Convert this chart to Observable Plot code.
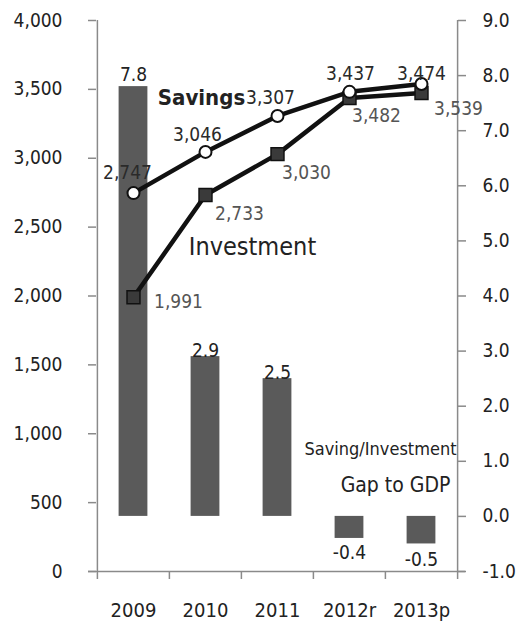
<!DOCTYPE html>
<html>
<head>
<meta charset="utf-8">
<script src="https://cdn.jsdelivr.net/npm/d3@7"></script>
<script src="https://cdn.jsdelivr.net/npm/@observablehq/plot@0.6"></script>
<style>
  html, body { margin: 0; padding: 0; background: #fff; }
  #chart { width: 519px; height: 623px; }
</style>
</head>
<body>
<div id="chart"></div>
<script>
// ---- data ----
const years = ["2009", "2010", "2011", "2012r", "2013p"];
const savings = [2747, 3046, 3307, 3482, 3539];
const investment = [1991, 2733, 3030, 3437, 3474];
const gap = [7.8, 2.9, 2.5, -0.4, -0.5];   // Saving/Investment gap to GDP (right axis)
const leftTicks = [0, 500, 1000, 1500, 2000, 2500, 3000, 3500, 4000];
const rightTicks = [-1, 0, 1, 2, 3, 4, 5, 6, 7, 8, 9];

// ---- layout / style ----
const W = 519, H = 623;
const mL = 96, mR = 62, mT = 20, mB = 52;
const bw = (W - mL - mR) / years.length;
const leftDomain = [leftTicks[0], leftTicks[leftTicks.length - 1]];
const rightDomain = [rightTicks[0], rightTicks[rightTicks.length - 1]];
const k = (leftDomain[1] - leftDomain[0]) / (rightDomain[1] - rightDomain[0]);
const toLeft = v => leftDomain[0] + (v - rightDomain[0]) * k;
const fromLeft = u => rightDomain[0] + (u - leftDomain[0]) / k;

const font = "'DejaVu Sans Condensed', 'Noto Sans', sans-serif";
const axisGray = "#8a8a8a";
const barFill = "#5a5a5a";
const noText = () => "";

const gapRows = years.map((year, i) => ({year, base: toLeft(0), top: toLeft(gap[i]), label: gap[i].toFixed(1), neg: gap[i] < 0}));
const savRows = years.map((year, i) => ({year, v: savings[i]}));
const invRows = years.map((year, i) => ({year, v: investment[i]}));

const savOff = [[-6, -20], [-8, -17], [-7, -18], [27, 24], [37, 25]];
const invOff = [[45, 5], [34, 19], [29, 19], [1, -24], [0, -19]];
const gapOff = [-12, -6, -6, 14, 16];

const valueLabels = [];
savRows.forEach((r, i) => valueLabels.push(Plot.text([r], {x: "year", y: "v", text: d => d3.format(",")(d.v), dx: savOff[i][0], dy: savOff[i][1], fontSize: 19, fill: i < 3 ? "#2a2a2a" : "#555"})));
invRows.forEach((r, i) => valueLabels.push(Plot.text([r], {x: "year", y: "v", text: d => d3.format(",")(d.v), dx: invOff[i][0], dy: invOff[i][1], fontSize: 19, fill: i < 3 ? "#555" : "#2a2a2a"})));
const barLabels = gapRows.map((r, i) => Plot.text([r], {x: "year", y: "top", text: "label", dy: gapOff[i], fontSize: 19, fill: "#222"}));

const annotations = [
  {text: "Savings", x: "2010", y: 3441, dx: -4, size: 22, weight: "bold"},
  {text: "Investment", x: "2010", y: 2359, dx: 47, size: 25, weight: "normal"},
  {text: "Saving/Investment", x: "2012r", y: 886, dx: 31, size: 18, weight: "normal"},
  {text: "Gap to GDP", x: "2012r", y: 624, dx: 46, size: 21, weight: "normal"}
];

const chart = Plot.plot({
  width: W, height: H,
  marginLeft: mL, marginRight: mR, marginTop: mT, marginBottom: mB,
  style: {fontFamily: font, background: "#fff", color: "#222", overflow: "visible"},
  x: {type: "band", domain: years, paddingInner: 0, paddingOuter: 0, axis: null},
  y: {domain: leftDomain, axis: null},
  marks: [
    // bars (right axis, gap to GDP)
    Plot.barY(gapRows, {x: "year", y1: "base", y2: "top", fill: barFill, insetLeft: 21.6, insetRight: 21.6}),
    ...barLabels,
    // axis lines
    Plot.ruleY([leftDomain[0]], {stroke: axisGray, strokeWidth: 1.5, insetLeft: -8, insetRight: -8}),
    Plot.ruleX([years[0]], {dx: -bw / 2, stroke: axisGray, strokeWidth: 1.5}),
    Plot.ruleX([years[years.length - 1]], {dx: bw / 2, stroke: axisGray, strokeWidth: 1.5}),
    // x ticks at band boundaries
    Plot.axisX({anchor: "bottom", ticks: years, tickSize: 8, dx: -bw / 2, tickFormat: noText, color: axisGray, strokeWidth: 1.5, label: null}),
    Plot.axisX({anchor: "bottom", ticks: [years[years.length - 1]], tickSize: 8, dx: bw / 2, tickFormat: noText, color: axisGray, strokeWidth: 1.5, label: null}),
    Plot.axisX({anchor: "bottom", tickSize: 0, tickPadding: 31, fontSize: 20, color: "#222", label: null}),
    // left axis
    Plot.axisY({anchor: "left", ticks: leftTicks, tickSize: 8, tickFormat: noText, color: axisGray, strokeWidth: 1.5, label: null}),
    Plot.axisY({anchor: "left", ticks: leftTicks, tickSize: 0, tickPadding: 34, tickFormat: d3.format(","), fontSize: 19, color: "#222", label: null}),
    // right axis
    Plot.axisY({anchor: "right", ticks: rightTicks.map(toLeft), tickSize: 8, tickFormat: noText, color: axisGray, strokeWidth: 1.5, label: null}),
    Plot.axisY({anchor: "right", ticks: rightTicks.map(toLeft), tickSize: 0, tickPadding: 25, tickFormat: d => fromLeft(d).toFixed(1), fontSize: 19, color: "#222", label: null}),
    // lines
    Plot.line(invRows, {x: "year", y: "v", stroke: "#111", strokeWidth: 4.5}),
    Plot.line(savRows, {x: "year", y: "v", stroke: "#111", strokeWidth: 4.5}),
    Plot.dot(invRows, {x: "year", y: "v", symbol: "square", r: 7.3, fill: "#3a3a3a", stroke: "#111", strokeWidth: 1.5}),
    Plot.dot(savRows, {x: "year", y: "v", r: 6, fill: "#fff", stroke: "#111", strokeWidth: 2}),
    ...valueLabels,
    ...annotations.map(a => Plot.text([a], {x: "x", y: "y", text: "text", dx: a.dx, fontSize: a.size, fontWeight: a.weight, fill: "#222"}))
  ]
});
document.getElementById("chart").append(chart);
</script>
</body>
</html>
